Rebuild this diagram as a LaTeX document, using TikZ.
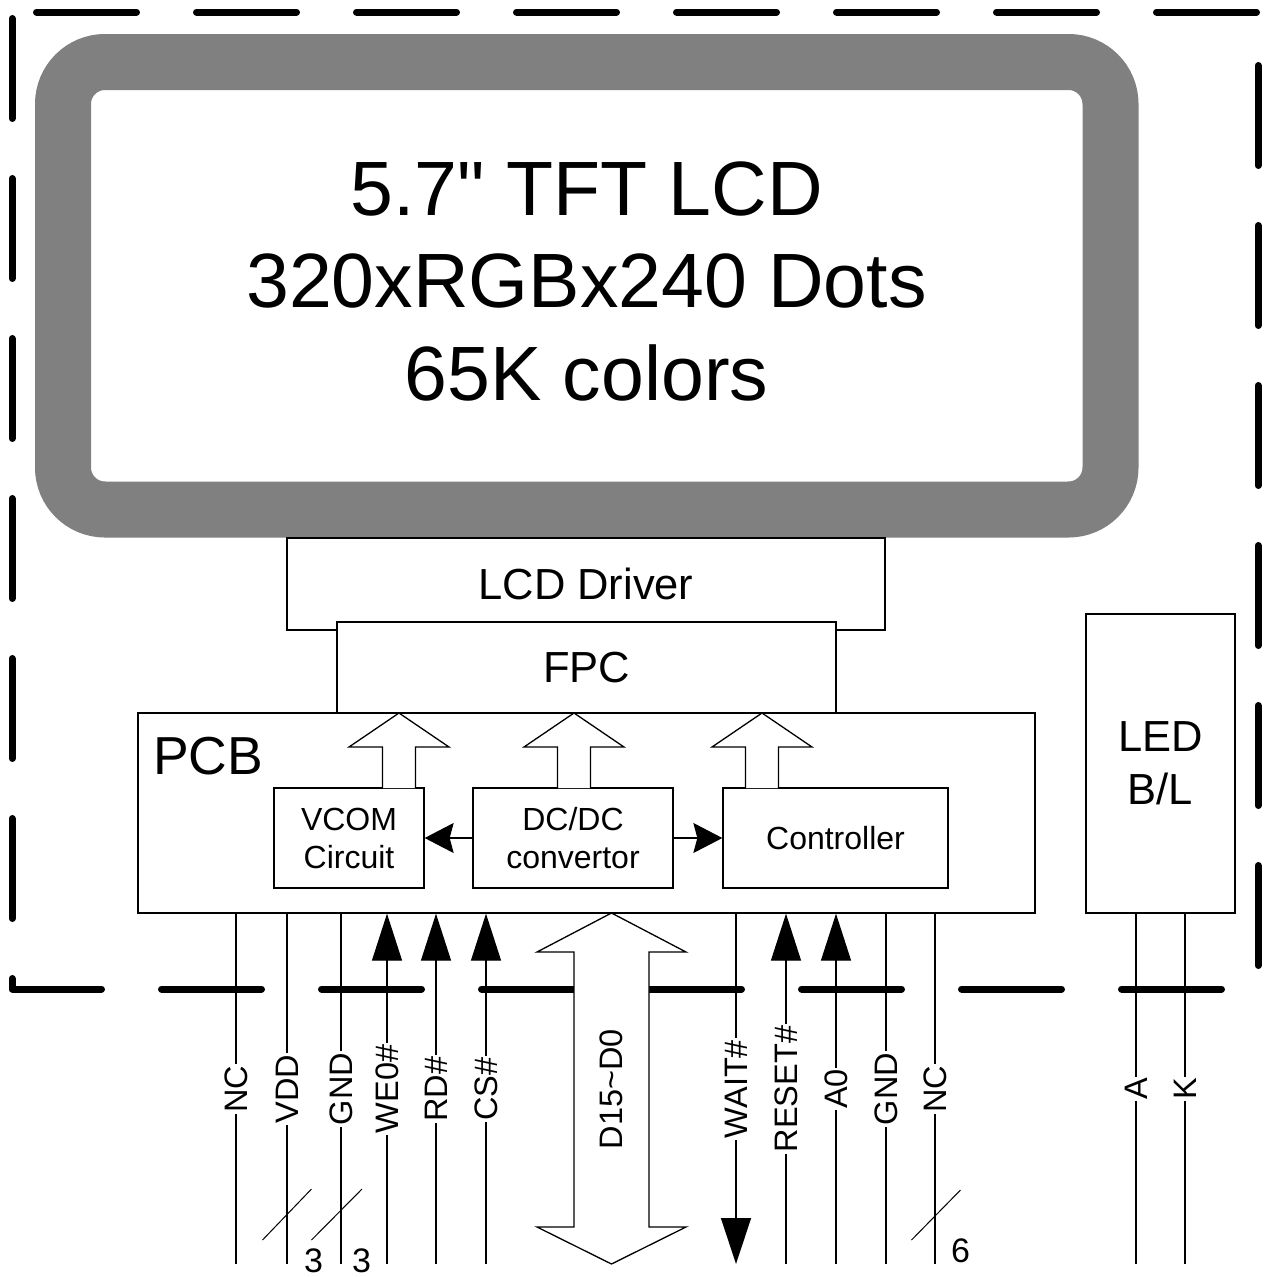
\documentclass[tikz,border=0pt]{standalone}
\usepackage{fontspec}
\setmainfont{Liberation Sans}[Ligatures=TeXOff]
\usetikzlibrary{arrows.meta,calc}
\begin{document}
\begin{tikzpicture}[x=1pt,y=-1pt,
  box/.style={draw=black, line width=1.3pt, fill=white, inner sep=0pt, align=center},
  pin/.style={draw=black, line width=1.3pt},
  hollow/.style={draw=black, line width=1.3pt, fill=white, line join=miter},
  dashborder/.style={line width=7pt, line cap=round, line join=round, dash pattern=on 100pt off 60pt},
  lcdframe/.style={draw=gray, line width=56pt, rounded corners=42pt, inner sep=0pt},
  pinlab/.style={fill=white, rotate=90, inner xsep=1.5pt, inner ysep=0pt, font=\fontsize{32.5}{38}\selectfont},
  uparr/.style={pin, <-, >={Triangle[length=47pt,width=30pt]}},
  downarr/.style={pin, ->, >={Triangle[length=46pt,width=30pt]}},
  sidearr/.style={pin, ->, >={Stealth[length=29pt,width=30pt,inset=4pt]}},
  numlab/.style={inner sep=0pt, font=\fontsize{34}{40}\selectfont},
  slash/.style={draw=black, line width=1pt}
]
\useasboundingbox (0,0) rectangle (1265,1277);

% dashed enclosure
\draw[dashborder] (36.5,12) -- (1258,12);
\draw[dashborder] (12,18.5) -- (12,989) -- (1258,989);
\draw[dashborder] (1258,65.5) -- (1258,989);

% LCD panel
\node[lcdframe, minimum width=1047.5pt, minimum height=447.5pt] (lcd) at (586.75,285.75) {};
\node[anchor=base, inner sep=0pt, font=\fontsize{77}{92}\selectfont] (lcdA) at (586.5,215) {5.7" TFT LCD};
\node[anchor=base, inner sep=0pt, font=\fontsize{77}{92}\selectfont] (lcdB) at (586.5,307) {320xRGBx240 Dots};
\node[anchor=base, inner sep=0pt, font=\fontsize{77}{92}\selectfont] (lcdC) at (586.5,400) {65K colors};

% driver / FPC / PCB
\node[box, minimum width=598pt, minimum height=92pt, font=\fontsize{43.5}{52}\selectfont] (drv) at (586,584) {LCD Driver};
\node[box, minimum width=499pt, minimum height=91pt, font=\fontsize{43.5}{52}\selectfont] (fpc) at (586.5,667.5) {FPC};
\node[box, minimum width=897pt, minimum height=200pt] (pcb) at (586.5,813) {};
\node[anchor=base west, inner sep=0pt, font=\fontsize{53.5}{60}\selectfont] (pcblab) at (153,774) {PCB};

\node[box, minimum width=150pt, minimum height=100pt, font=\fontsize{32}{38}\selectfont] (vcom) at (349,838) {VCOM\\Circuit};
\node[box, minimum width=200pt, minimum height=100pt, font=\fontsize{32}{38}\selectfont] (dcdc) at (573,838) {DC/DC\\convertor};
\node[box, minimum width=225pt, minimum height=100pt, font=\fontsize{32}{38}\selectfont] (ctrl) at (835.5,838) {Controller};

\draw[sidearr] (dcdc.west) -- (vcom.east);
\draw[sidearr] (dcdc.east) -- (ctrl.west);

% hollow arrows to FPC
\draw[hollow] (382.5,788) -- (382.5,747) -- (349,747) -- (399,713) -- (449,747) -- (415.5,747) -- (415.5,788);
\draw[hollow] (557.5,788) -- (557.5,747) -- (524,747) -- (574,713) -- (624,747) -- (590.5,747) -- (590.5,788);
\draw[hollow] (745.5,788) -- (745.5,747) -- (712,747) -- (762,713) -- (812,747) -- (778.5,747) -- (778.5,788);

% LED backlight
\node[box, minimum width=149pt, minimum height=299pt, font=\fontsize{43.5}{53}\selectfont] (led) at (1160.5,763.5) {LED\\B/L};

% plain pins
\foreach \x/\n/\t in {236/pa/NC, 287/pb/VDD, 341/pc/GND, 886/pj/GND, 935/pk/NC}{
  \coordinate (t\n) at (\x,0 |- pcb.south);
  \coordinate (b\n) at (\x,1264);
  \draw[pin] (t\n) -- (b\n);
  \node[pinlab] (l\n) at (\x,1089) {\t};
}
% input pins
\foreach \x/\n/\t in {387/pd/WE0\#, 436/pe/RD\#, 486/pf/CS\#, 786/ph/RESET\#, 836/pi/A0}{
  \coordinate (t\n) at (\x,0 |- pcb.south);
  \coordinate (b\n) at (\x,1264);
  \draw[uparr] (t\n) -- (b\n);
  \node[pinlab] (l\n) at (\x,1089) {\t};
}
% output pin
\coordinate (tpg) at (736,0 |- pcb.south);
\coordinate (bpg) at (736,1264);
\draw[downarr] (tpg) -- (bpg);
\node[pinlab] (lpg) at (736,1089) {WAIT\#};

% LED pins
\foreach \x/\n/\t in {1136/pl/A, 1185/pm/K}{
  \coordinate (t\n) at (\x,0 |- led.south);
  \coordinate (b\n) at (\x,1264);
  \draw[pin] (t\n) -- (b\n);
  \node[pinlab] (l\n) at (\x,1089) {\t};
}

% data bus
\draw[hollow] (611.5,913) -- (686,952) -- (649,952) -- (649,1227) -- (686,1227) -- (611.5,1264)
  -- (537,1227) -- (574,1227) -- (574,952) -- (537,952) -- cycle;
\node[pinlab] (lbus) at (611.5,1089) {D15\symbol{126}D0};

% bundle marks
\draw[slash] (262.5,1240) -- (311.5,1189);
\draw[slash] (311.5,1240) -- (362,1189);
\draw[slash] (911.5,1240) -- (960.5,1190);
\node[numlab] (n3a) at (313.5,1260.5) {3};
\node[numlab] (n3b) at (361.5,1260.5) {3};
\node[numlab] (n6) at (960.5,1250.5) {6};
\end{tikzpicture}
\end{document}
